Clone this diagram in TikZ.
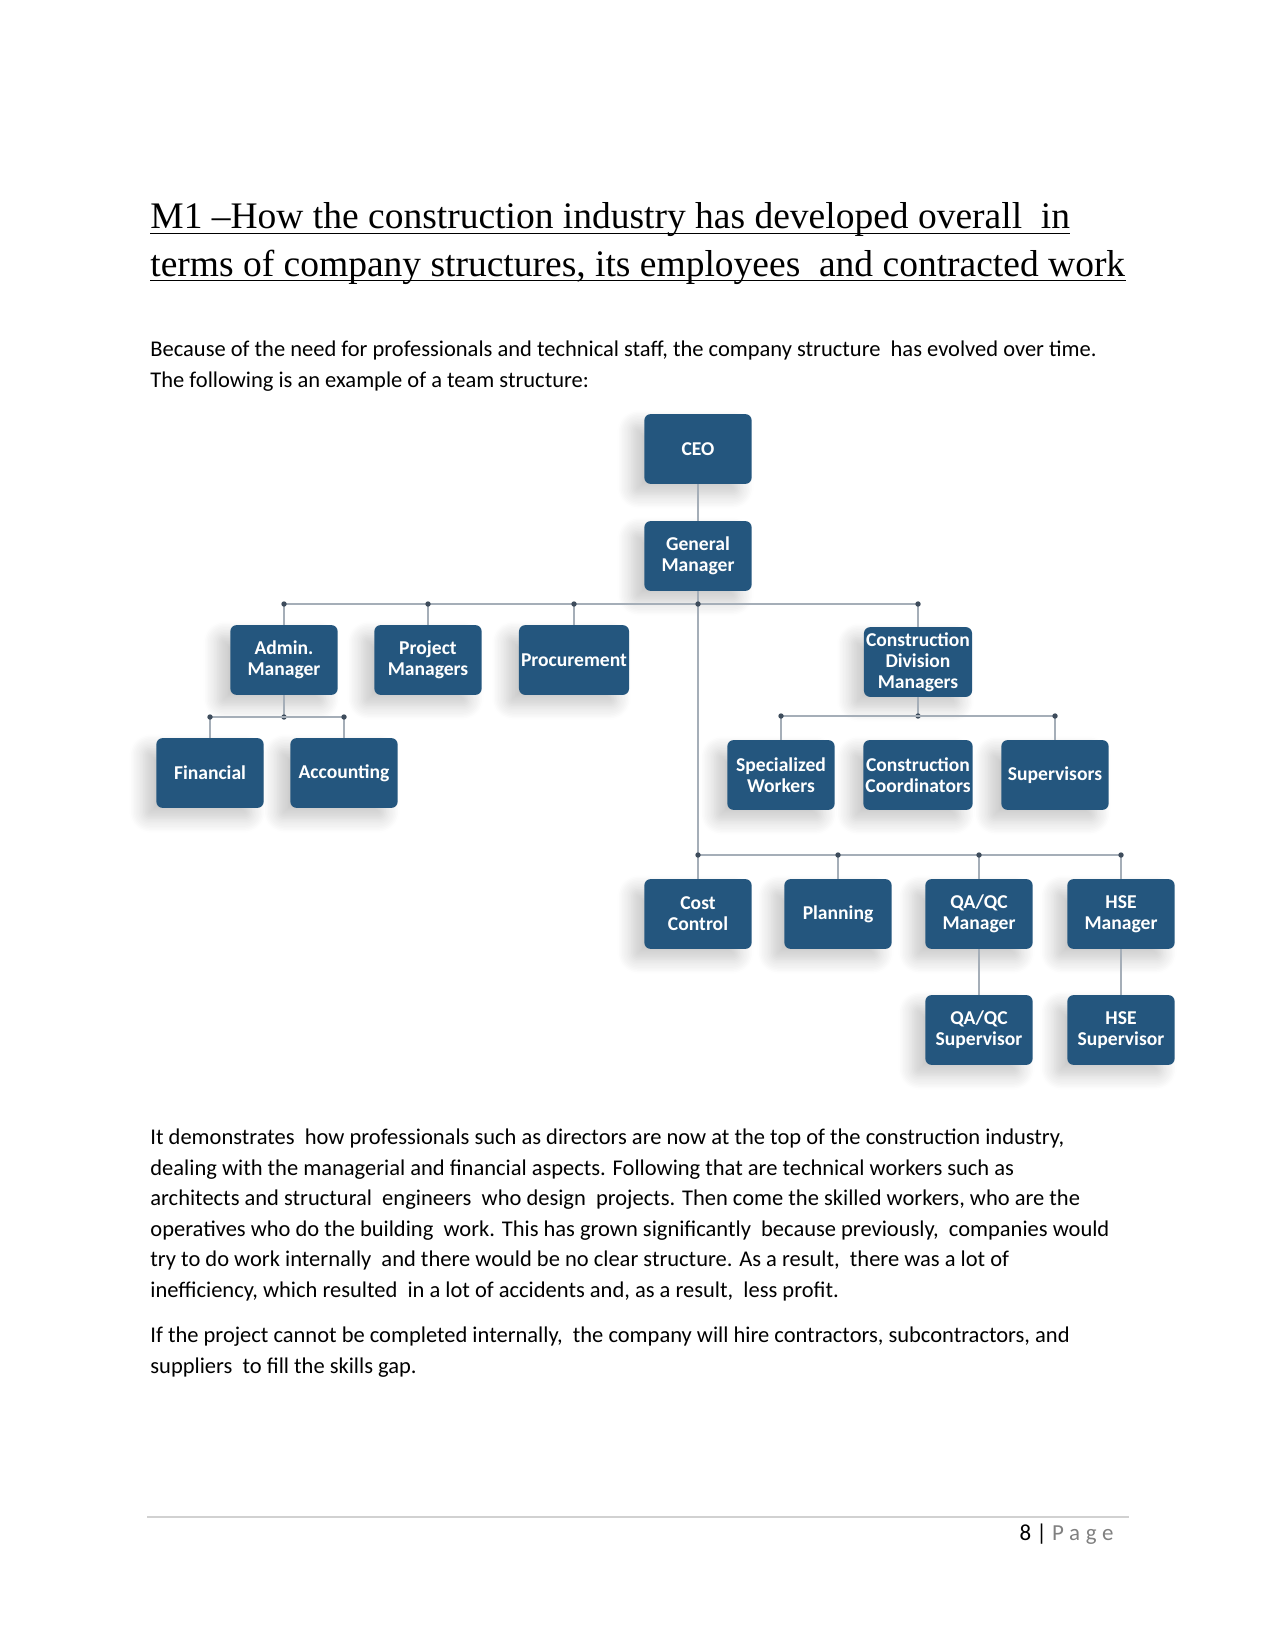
\documentclass[tikz,border=0pt]{standalone}
\usepackage{fontspec}
\setmainfont{Carlito}
\newfontfamily\titlefont{Liberation Serif}
\usetikzlibrary{shadows.blur}

\definecolor{boxblue}{RGB}{36,86,126}
\definecolor{linkgray}{RGB}{165,174,184}
\definecolor{dotgray}{RGB}{62,76,92}

\begin{document}
\begin{tikzpicture}[x=0.48pt, y=-0.48pt,
    unit/.style={fill=boxblue, rounded corners=3pt, minimum width=51.5pt, minimum height=33.5pt,
        inner sep=1pt, text=white, align=center, font=\bfseries\fontsize{9.4}{10}\selectfont,
        blur shadow={shadow xshift=-6pt, shadow yshift=-5pt, shadow blur radius=7pt,
            shadow blur steps=10, shadow opacity=22}},
    link/.style={linkgray, line width=0.9pt},
    dot/.style={circle, fill=dotgray, inner sep=0pt, minimum size=2.6pt},
    body/.style={anchor=base west, align=left, inner sep=0pt, font=\fontsize{10.8}{14.6}\selectfont}]

    \useasboundingbox (0,0) rectangle (1275,1651);

    % Title
    \node[anchor=base west, inner sep=0pt, font=\titlefont\fontsize{18}{22}\selectfont] (title1) at (150,229)
        {M1 –How the construction industry has developed overall\ \ in};
    \node[anchor=base west, inner sep=0pt, font=\titlefont\fontsize{18}{22}\selectfont] (title2) at (150,276)
        {terms of company structures, its employees\ \ and contracted work};
    \draw[line width=0.6pt] ([yshift=-2pt]title1.base west) -- ([yshift=-2pt]title1.base east);
    \draw[line width=0.6pt] ([yshift=-2pt]title2.base west) -- ([yshift=-2pt]title2.base east);

    % (base = last line)
    \node[body] (intro) at (150,387) {Because of the need for professionals and technical staff, the company structure\ \ has evolved over time.\\
        The following is an example of a team structure:};

    % Boxes
    \node[unit] (ceo) at (698,449) {CEO};
    \node[unit] (gm) at (698,556) {General\\Manager};
    \node[unit] (admin) at (284,660) {Admin.\\Manager};
    \node[unit] (pm) at (428,660) {Project\\Managers};
    \node[unit] (proc) at (574,660) {Procurement};
    \node[unit] (cdm) at (918,662) {Construction\\Division\\Managers};
    \node[unit] (fin) at (210,773) {Financial};
    \node[unit] (acc) at (344,773) {Accounting};
    \node[unit] (spec) at (781,775) {Specialized\\Workers};
    \node[unit] (coord) at (918,775) {Construction\\Coordinators};
    \node[unit] (sup) at (1055,775) {Supervisors};
    \node[unit] (cost) at (698,914) {Cost\\Control};
    \node[unit] (plan) at (838,914) {Planning};
    \node[unit] (qam) at (979,914) {QA/QC\\Manager};
    \node[unit] (hsem) at (1121,914) {HSE\\Manager};
    \node[unit] (qas) at (979,1030) {QA/QC\\Supervisor};
    \node[unit] (hses) at (1121,1030) {HSE\\Supervisor};

    % Bus levels
    \coordinate (busA) at (0,604);
    \coordinate (busB) at (0,855);
    \coordinate (busC) at (0,717);
    \coordinate (busD) at (0,716);

    % Links
    \draw[link] (ceo) -- (gm);
    \draw[link] (gm.south) -- (cost.north);
    \draw[link] (admin.north |- busA) -- (cdm.north |- busA);
    \node[dot] at (gm.south |- busA) {};
    \foreach \n in {admin, pm, proc, cdm}
        \draw[link] (\n.north) -- (\n.north |- busA) node[dot] {};

    \draw[link] (admin.south) -- (admin.south |- busC) node[dot] {};
    \draw[link] (fin.north |- busC) -- (acc.north |- busC);
    \foreach \n in {fin, acc}
        \draw[link] (\n.north) -- (\n.north |- busC) node[dot] {};

    \draw[link] (cdm.south) -- (cdm.south |- busD) node[dot] {};
    \draw[link] (spec.north |- busD) -- (sup.north |- busD);
    \foreach \n in {spec, sup}
        \draw[link] (\n.north) -- (\n.north |- busD) node[dot] {};

    \draw[link] (cost.north |- busB) -- (hsem.north |- busB);
    \foreach \n in {cost, plan, qam, hsem}
        \draw[link] (\n.north) -- (\n.north |- busB) node[dot] {};

    \draw[link] (qam) -- (qas);
    \draw[link] (hsem) -- (hses);

    % Text below
    \node[body] (para1) at (150,1297) {It demonstrates\ \ how professionals such as directors are now at the top of the construction industry,\\
        dealing with the managerial and financial aspects. Following that are technical workers such as\\
        architects and structural\ \ engineers\ \ who design\ \ projects. Then come the skilled workers, who are the\\
        operatives who do the building\ \ work. This has grown significantly\ \ because previously,\ \ companies would\\
        try to do work internally\ \ and there would be no clear structure. As a result,\ \ there was a lot of\\
        inefficiency, which resulted\ \ in a lot of accidents and, as a result,\ \ less profit.};
    \node[body] (para2) at (150,1373) {If the project cannot be completed internally,\ \ the company will hire contractors, subcontractors, and\\
        suppliers\ \ to fill the skills gap.};

    % Footer
    \draw[black!18, line width=1pt] (147,1517) coordinate (footl) -- (1129,1517) coordinate (footr);
    \node[anchor=base east, inner sep=0pt, font=\fontsize{11}{13}\selectfont] (pagenum) at (1114,1540)
        {8 | {\color{gray}\addfontfeature{LetterSpace=25}Page}};
\end{tikzpicture}
\end{document}
